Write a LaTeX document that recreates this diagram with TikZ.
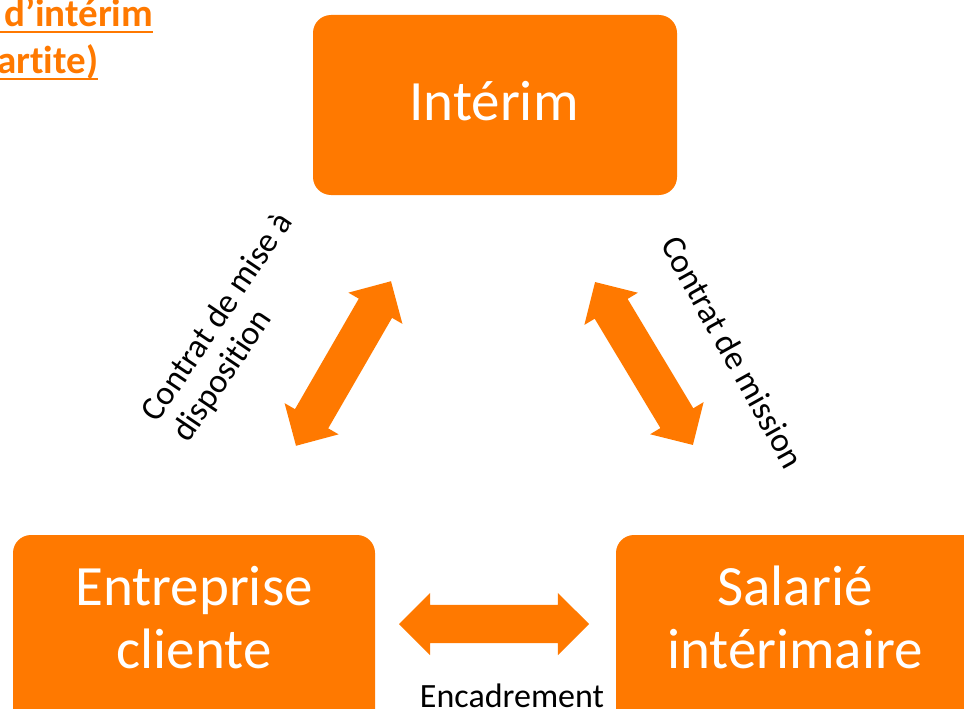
\documentclass[tikz,border=0pt]{standalone}
\usepackage{fontspec}
\setmainfont{Carlito}[Ligatures=NoCommon]
\usetikzlibrary{shapes.arrows}
\definecolor{orng}{HTML}{FF7900}
\begin{document}
\begin{tikzpicture}[x=1pt,y=-1pt,
 box/.style={fill=orng, draw=none, rounded corners=18pt, inner sep=0pt},
 boxtext/.style={text=white, font=\fontsize{57}{63}\selectfont, align=center, inner sep=0pt, anchor=base},
 dbl/.style={double arrow, fill=orng, draw=none, inner xsep=0pt, inner ysep=19pt, minimum height=190pt, double arrow head extend=12pt},
 lbl/.style={text=black, font=\fontsize{34}{37}\selectfont, inner sep=0pt},
 ttl/.style={text=orng, font=\bfseries\fontsize{39}{44}\selectfont, inner sep=0pt, anchor=base west},
 uline/.style={draw=orng, line width=2.5pt}]
\useasboundingbox (0,0) rectangle (964,709);
\clip (0,0) rectangle (964,709);
% boxes
\node[box, minimum width=364pt, minimum height=180pt] (interim) at (495,105) {};
\node[box, minimum width=362pt, minimum height=205pt] (client) at (194,637.5) {};
\node[box, minimum width=384pt, minimum height=205pt] (salarie) at (808,637.5) {};
\node[boxtext] (interim-t) at (494,120) {Intérim};
\node[boxtext] (client-t) at (194,668) {Entreprise\\cliente};
\node[boxtext] (salarie-t) at (795,668) {Salarié\\intérimaire};
% arrows
\node[dbl, rotate=60] (a-left) at (343.5,363.5) {};
\node[dbl, rotate=-59] (a-right) at (644,363.5) {};
\node[dbl] (a-bottom) at (494,624) {};
% labels
\node[lbl, rotate=56, anchor=north west, align=left] (l-left) at (138,410) {Contrat de mise à\\disposition};
\node[lbl, rotate=-61] (l-right) at (733,352) {Contrat de mission};
\node[lbl, anchor=base] (l-bottom) at (512,707) {Encadrement};
% title
\node[ttl] (t1) at (4,27) {d’intérim};
\node[ttl] (t2) at (-3,74) {artite)};
\draw[uline] ([xshift=-12pt,yshift=-5pt]t1.base west) -- ([yshift=-5pt]t1.base east);
\draw[uline] ([xshift=-12pt,yshift=-5pt]t2.base west) -- ([yshift=-5pt]t2.base east);
\end{tikzpicture}
\end{document}
